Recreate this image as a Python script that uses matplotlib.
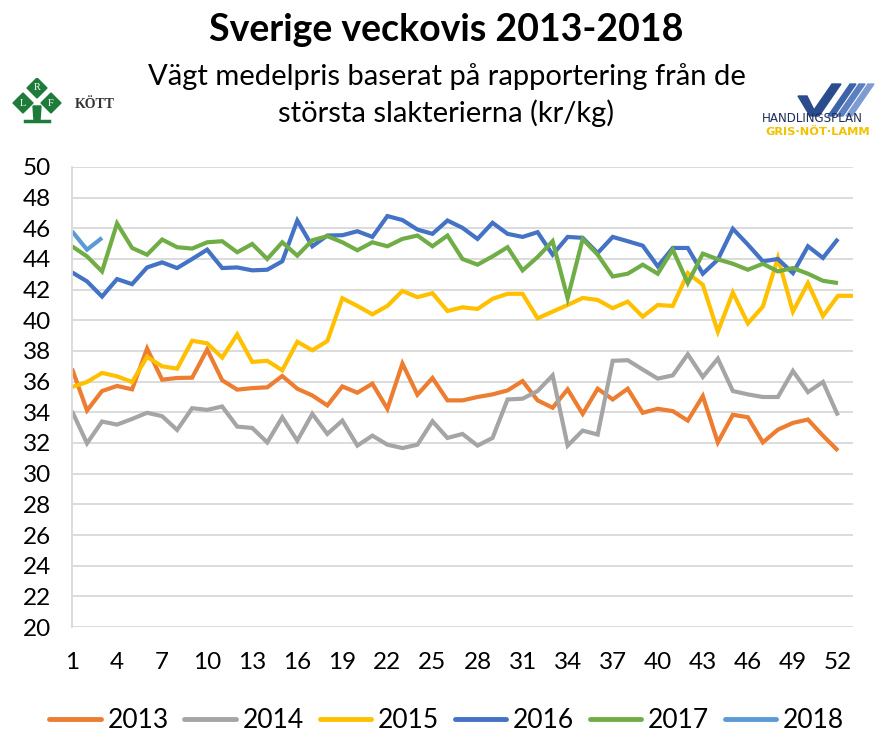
import matplotlib
matplotlib.use("Agg")
import matplotlib.pyplot as plt
from matplotlib.patches import Polygon
import numpy as np

plt.rcParams['font.family'] = ['Lato', 'DejaVu Sans']

years = ["2013", "2014", "2015", "2016", "2017", "2018"]
colors = ["#ED7D31", "#A5A5A5", "#FFC000", "#4472C4", "#70AD47", "#5B9BD5"]

y2013 = [36.85, 34.12, 35.39, 35.72, 35.5, 38.16, 36.13, 36.24, 36.26, 38.1,
         36.09, 35.48, 35.58, 35.63, 36.37, 35.54, 35.1, 34.45, 35.69, 35.28,
         35.87, 34.23, 37.18, 35.15, 36.24, 34.78, 34.78, 35.0, 35.17, 35.43,
         36.04, 34.78, 34.3, 35.5, 33.9, 35.54, 34.84, 35.54, 33.97, 34.23,
         34.08, 33.46, 35.06, 32.04, 33.84, 33.68, 32.04, 32.87, 33.31, 33.53,
         32.48, 31.5]
y2014 = [34.08, 31.98, 33.4, 33.2, 33.57, 33.97, 33.75, 32.85, 34.27, 34.16,
         34.38, 33.07, 32.98, 32.04, 33.68, 32.15, 33.9, 32.59, 33.46, 31.83,
         32.48, 31.89, 31.67, 31.89, 33.42, 32.33, 32.59, 31.83, 32.33, 34.84,
         34.89, 35.39, 36.41, 31.83, 32.81, 32.55, 37.36, 37.4, 36.79, 36.2,
         36.41, 37.79, 36.31, 37.5, 35.39, 35.17, 35.0, 35.0, 36.7, 35.32,
         35.98, 33.79]
y2015 = [35.65, 35.98, 36.57, 36.35, 35.98, 37.62, 37.0, 36.85, 38.67, 38.5,
         37.57, 39.08, 37.29, 37.36, 36.74, 38.6, 38.05, 38.65, 41.44, 40.94,
         40.39, 40.94, 41.92, 41.51, 41.77, 40.61, 40.85, 40.74, 41.4, 41.73,
         41.73, 40.13, 40.57, 41.0, 41.46, 41.33, 40.79, 41.22, 40.24, 41.0,
         40.94, 43.08, 42.32, 39.26, 41.81, 39.8, 40.9, 44.07, 40.57, 42.43,
         40.28, 41.6, 41.6]
y2016 = [43.13, 42.54, 41.55, 42.69, 42.36, 43.45, 43.78, 43.41, 44.0, 44.61,
         43.41, 43.45, 43.26, 43.3, 43.85, 46.51, 44.83, 45.53, 45.55, 45.81,
         45.44, 46.8, 46.54, 45.92, 45.64, 46.51, 46.03, 45.31, 46.36, 45.64,
         45.44, 45.75, 44.28, 45.44, 45.38, 44.39, 45.44, 45.16, 44.87, 43.52,
         44.72, 44.72, 43.04, 43.96, 45.97, 44.94, 43.85, 44.0, 43.08, 44.83,
         44.07, 45.31]
y2017 = [44.83, 44.17, 43.19, 46.32, 44.72, 44.28, 45.27, 44.77, 44.68, 45.09,
         45.16, 44.44, 44.98, 44.0, 45.09, 44.22, 45.22, 45.49, 45.09, 44.57,
         45.09, 44.83, 45.31, 45.53, 44.83, 45.53, 44.0, 43.63, 44.17, 44.77,
         43.26, 44.13, 45.16, 41.44, 45.3, 44.28, 42.86, 43.04, 43.63, 43.04,
         44.61, 42.43, 44.35, 43.98, 43.69, 43.3, 43.69, 43.19, 43.41, 43.04,
         42.58, 42.43]
y2018 = [45.81, 44.61, 45.38]

series = [y2013, y2014, y2015, y2016, y2017, y2018]
yticks = list(range(20, 51, 2))
xticks = list(range(1, 53, 3))

W, H = 893, 735
fig = plt.figure(figsize=(W / 100, H / 100), dpi=100)

def fx(px):
    return px / W

def fy(py):
    return 1 - py / H

ax = fig.add_axes([fx(72), fy(627), fx(853) - fx(72), fy(167) - fy(627)])
for vals, c, lab in zip(series, colors, years):
    weeks = np.arange(1, len(vals) + 1)
    ax.plot(weeks, vals, color=c, lw=3.0, label=lab, solid_joinstyle='miter',
            solid_capstyle='butt')

ax.set_xlim(1, 53)
ax.set_ylim(20, 50)
ax.set_yticks(yticks)
ax.set_xticks(xticks)
ax.set_yticklabels([str(v) for v in yticks], fontsize=17.5)
ax.set_xticklabels([str(v) for v in xticks], fontsize=17.5)
ax.tick_params(axis='y', length=0, pad=15)
ax.tick_params(axis='x', length=0, pad=18)
ax.grid(axis='y', color='#D9D9D9', lw=1.3)
ax.set_axisbelow(True)
for s in ['top', 'right', 'bottom']:
    ax.spines[s].set_visible(False)
ax.spines['left'].set_color('#D9D9D9')
ax.spines['left'].set_linewidth(1.3)

leg = fig.legend(loc='center', bbox_to_anchor=(0.5, fy(721)), ncol=6, frameon=False,
                 fontsize=19, handlelength=1.95, handletextpad=0.25, columnspacing=0.6)
for h in leg.get_lines():
    h.set_linewidth(3.5)
    h.set_solid_capstyle('round')

fig.text(0.5, fy(30), "Sverige veckovis 2013-2018", ha='center', va='center',
         fontsize=27, fontweight='bold')
fig.text(0.5, fy(77), "Vägt medelpris baserat på rapportering från de", ha='center',
         va='center', fontsize=21)
fig.text(0.5, fy(113), "största slakterierna (kr/kg)", ha='center', va='center',
         fontsize=21)

# Left logo (LRF Kött): axes in pixel units, 1 unit = 1 px
lax = fig.add_axes([fx(5), fy(128), fx(130) - fx(5), fy(78) - fy(128)])
lax.set_xlim(0, 125)
lax.set_ylim(0, 50)
lax.axis('off')
green = '#1E7B3A'
for cx, cy in [(32, 40), (18, 25), (46, 25)]:
    lax.add_patch(Polygon([(cx, cy + 10), (cx + 10, cy), (cx, cy - 10), (cx - 10, cy)],
                          closed=True, color=green))
lax.add_patch(Polygon([(28, 22), (36, 22), (35, 8), (29, 8)], closed=True, color=green))
lax.plot([20, 44], [7, 7], color=green, lw=2.5)
for t, (cx, cy) in zip("RLF", [(32, 40), (18, 25), (46, 25)]):
    lax.text(cx, cy, t, color='white', fontsize=7.5, ha='center', va='center',
             family='Liberation Serif')
lax.text(70, 24, "KÖTT", color='#333333', fontsize=10, ha='left', va='center',
         family='Liberation Serif', fontweight='bold')

# Right logo (Handlingsplan)
rax = fig.add_axes([fx(760), fy(138), fx(893) - fx(760), fy(82) - fy(138)])
rax.set_xlim(0, 133)
rax.set_ylim(0, 56)
rax.axis('off')
rax.add_patch(Polygon([(38, 42), (47, 42), (54, 28), (72, 54), (81, 54), (59, 22), (50, 22)],
                      closed=True, color='#2B4C8C'))
for i, col in enumerate(['#3E63A8', '#5B7FC0', '#7E9CD2']):
    off = 9 * (i + 1)
    rax.add_patch(Polygon([(59 + off, 22), (65 + off, 22), (87 + off, 54), (81 + off, 54)],
                          closed=True, color=col))
rax.text(2, 19, "HANDLINGSPLAN", color='#1F2F5C', fontsize=8.6, ha='left', va='center',
         family='DejaVu Sans')
rax.text(5, 6, "GRIS·NÖT·LAMM", color='#F2C200', fontsize=8.2, ha='left', va='center',
         family='DejaVu Sans', fontweight='bold')

fig.savefig("out.png", dpi=100)
